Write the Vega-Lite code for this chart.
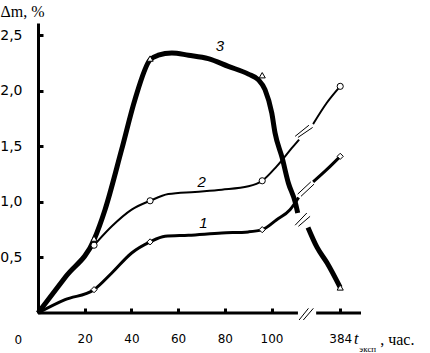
{
  "$schema": "https://vega.github.io/schema/vega-lite/v6.json",
  "width": 323,
  "height": 290,
  "autosize": "none",
  "padding": {"left": 38, "top": 23, "right": 69, "bottom": 40},
  "background": "white",
  "config": {"view": {"stroke": null}, "axis": {"grid": false}},
  "datasets": {
    "curves": [
      {"series": "1", "seg": "1a", "x": 0, "y": 0},
      {"series": "1", "seg": "1a", "x": 11.6, "y": 0.12},
      {"series": "1", "seg": "1a", "x": 24, "y": 0.21},
      {"series": "1", "seg": "1a", "x": 31.6, "y": 0.36},
      {"series": "1", "seg": "1a", "x": 40.1, "y": 0.54},
      {"series": "1", "seg": "1a", "x": 48, "y": 0.64},
      {"series": "1", "seg": "1a", "x": 54.4, "y": 0.69},
      {"series": "1", "seg": "1a", "x": 64.4, "y": 0.70},
      {"series": "1", "seg": "1a", "x": 78.7, "y": 0.72},
      {"series": "1", "seg": "1a", "x": 90.1, "y": 0.73},
      {"series": "1", "seg": "1a", "x": 96, "y": 0.75},
      {"series": "1", "seg": "1a", "x": 102.2, "y": 0.84},
      {"series": "1", "seg": "1a", "x": 107.9, "y": 0.93},
      {"series": "1", "seg": "1a", "x": 111.6, "y": 1.04},
      {"series": "1", "seg": "1b", "x": 117.8, "y": 1.18},
      {"series": "1", "seg": "1b", "x": 123.6, "y": 1.29},
      {"series": "1", "seg": "1b", "x": 129.4, "y": 1.41},
      {"series": "2", "seg": "2a", "x": 0, "y": 0},
      {"series": "2", "seg": "2a", "x": 12, "y": 0.32},
      {"series": "2", "seg": "2a", "x": 24, "y": 0.61},
      {"series": "2", "seg": "2a", "x": 31.6, "y": 0.78},
      {"series": "2", "seg": "2a", "x": 40.1, "y": 0.93},
      {"series": "2", "seg": "2a", "x": 48, "y": 1.01},
      {"series": "2", "seg": "2a", "x": 55.8, "y": 1.07},
      {"series": "2", "seg": "2a", "x": 67.2, "y": 1.09},
      {"series": "2", "seg": "2a", "x": 78.7, "y": 1.11},
      {"series": "2", "seg": "2a", "x": 90.1, "y": 1.14},
      {"series": "2", "seg": "2a", "x": 96, "y": 1.19},
      {"series": "2", "seg": "2a", "x": 102.2, "y": 1.32},
      {"series": "2", "seg": "2a", "x": 109.3, "y": 1.50},
      {"series": "2", "seg": "2a", "x": 111.8, "y": 1.56},
      {"series": "2", "seg": "2b", "x": 117.8, "y": 1.70},
      {"series": "2", "seg": "2b", "x": 123.6, "y": 1.89},
      {"series": "2", "seg": "2b", "x": 129.4, "y": 2.04},
      {"series": "3", "seg": "3a", "x": 0, "y": 0},
      {"series": "3", "seg": "3a", "x": 12, "y": 0.33},
      {"series": "3", "seg": "3a", "x": 24, "y": 0.66},
      {"series": "3", "seg": "3a", "x": 28.7, "y": 0.93},
      {"series": "3", "seg": "3a", "x": 35.8, "y": 1.47},
      {"series": "3", "seg": "3a", "x": 41.5, "y": 1.92},
      {"series": "3", "seg": "3a", "x": 48, "y": 2.28},
      {"series": "3", "seg": "3a", "x": 51.5, "y": 2.32},
      {"series": "3", "seg": "3a", "x": 57.3, "y": 2.34},
      {"series": "3", "seg": "3a", "x": 64.4, "y": 2.32},
      {"series": "3", "seg": "3a", "x": 72.9, "y": 2.29},
      {"series": "3", "seg": "3a", "x": 81.5, "y": 2.22},
      {"series": "3", "seg": "3a", "x": 90.1, "y": 2.15},
      {"series": "3", "seg": "3a", "x": 94.3, "y": 2.10},
      {"series": "3", "seg": "3a", "x": 97.2, "y": 2.01},
      {"series": "3", "seg": "3a", "x": 100.1, "y": 1.80},
      {"series": "3", "seg": "3a", "x": 101.5, "y": 1.62},
      {"series": "3", "seg": "3a", "x": 104.5, "y": 1.40},
      {"series": "3", "seg": "3a", "x": 107.2, "y": 1.17},
      {"series": "3", "seg": "3a", "x": 110.1, "y": 1.00},
      {"series": "3", "seg": "3a", "x": 111.2, "y": 0.90},
      {"series": "3", "seg": "3b", "x": 115.6, "y": 0.77},
      {"series": "3", "seg": "3b", "x": 119.5, "y": 0.59},
      {"series": "3", "seg": "3b", "x": 123.8, "y": 0.45},
      {"series": "3", "seg": "3b", "x": 129.4, "y": 0.23}
    ],
    "markers": [
      {"series": "1", "x": 24, "y": 0.21},
      {"series": "1", "x": 48, "y": 0.64},
      {"series": "1", "x": 96, "y": 0.75},
      {"series": "1", "x": 129.4, "y": 1.41},
      {"series": "2", "x": 24, "y": 0.61},
      {"series": "2", "x": 48, "y": 1.01},
      {"series": "2", "x": 96, "y": 1.19},
      {"series": "2", "x": 129.4, "y": 2.04},
      {"series": "3", "x": 24, "y": 0.67},
      {"series": "3", "x": 48, "y": 2.29},
      {"series": "3", "x": 96, "y": 2.14},
      {"series": "3", "x": 129.4, "y": 0.23}
    ],
    "breaks": [
      {"x": 111.8, "y": -0.063, "x2": 115.8, "y2": 0.042},
      {"x": 113.6, "y": -0.063, "x2": 117.9, "y2": 0.042},
      {"x": 110.1, "y": 0.79, "x2": 115.1, "y2": 0.90},
      {"x": 111.5, "y": 0.78, "x2": 116.5, "y2": 0.87},
      {"x": 111.2, "y": 1.07, "x2": 116.8, "y2": 1.18},
      {"x": 112.6, "y": 1.05, "x2": 118.2, "y2": 1.16},
      {"x": 110.1, "y": 1.59, "x2": 116.0, "y2": 1.69},
      {"x": 111.3, "y": 1.58, "x2": 117.6, "y2": 1.67}
    ],
    "axisline": [
      {"x": 0, "x2": 111.3, "y": 0},
      {"x": 119.1, "x2": 138.3, "y": 0}
    ],
    "curvelabels": [
      {"x": 70.8, "y": 0.81, "text": "1"},
      {"x": 70.1, "y": 1.18, "text": "2"},
      {"x": 77.9, "y": 2.40, "text": "3"}
    ]
  },
  "encoding": {
    "x": {
      "field": "x", "type": "quantitative",
      "scale": {"domain": [0, 138.3], "nice": false, "zero": false},
      "axis": {
        "title": null, "domain": false,
        "values": [20, 40, 60, 80, 100, 129.4],
        "labelExpr": "datum.value > 120 ? '384' : datum.label",
        "tickSize": -5, "tickWidth": 3, "tickColor": "black",
        "labelPadding": 25, "labelFont": "DejaVu Sans", "labelFontSize": 12,
        "labelColor": "black", "labelFlush": false, "labelOverlap": false
      }
    },
    "y": {
      "field": "y", "type": "quantitative",
      "scale": {"domain": [0, 2.61], "nice": false, "zero": false},
      "axis": {
        "title": "Δm, %", "titleAngle": 0, "titleAlign": "left", "titleBaseline": "alphabetic",
        "titleX": -38, "titleY": -7, "titleFont": "Liberation Serif", "titleFontSize": 16,
        "titleFontWeight": "normal", "titleColor": "black",
        "values": [0.5, 1, 1.5, 2, 2.5],
        "labelExpr": "replace(format(datum.value, '.1f'), '.', ',')",
        "domainWidth": 3, "domainColor": "black",
        "tickSize": -5, "tickWidth": 3, "tickColor": "black",
        "labelPadding": 21, "labelFont": "DejaVu Sans", "labelFontSize": 14, "labelColor": "black"
      }
    }
  },
  "layer": [
    {
      "data": {"name": "axisline"},
      "mark": {"type": "rule", "strokeWidth": 3, "color": "black"},
      "encoding": {"x2": {"field": "x2"}}
    },
    {
      "data": {"name": "curves"},
      "transform": [{"filter": "datum.series == '1'"}],
      "mark": {"type": "line", "strokeWidth": 3, "color": "black", "interpolate": "monotone"},
      "encoding": {"detail": {"field": "seg"}}
    },
    {
      "data": {"name": "curves"},
      "transform": [{"filter": "datum.series == '2'"}],
      "mark": {"type": "line", "strokeWidth": 2, "color": "black", "interpolate": "monotone"},
      "encoding": {"detail": {"field": "seg"}}
    },
    {
      "data": {"name": "curves"},
      "transform": [{"filter": "datum.series == '3'"}],
      "mark": {"type": "line", "strokeWidth": 5, "color": "black", "interpolate": "monotone"},
      "encoding": {"detail": {"field": "seg"}}
    },
    {
      "data": {"name": "breaks"},
      "mark": {"type": "rule", "strokeWidth": 1, "color": "black"},
      "encoding": {"x2": {"field": "x2"}, "y2": {"field": "y2"}}
    },
    {
      "data": {"name": "markers"},
      "mark": {"type": "point", "filled": true, "fill": "white", "stroke": "black", "strokeWidth": 1, "opacity": 1, "size": 38},
      "encoding": {
        "shape": {"field": "series", "type": "nominal", "scale": {"domain": ["1", "2", "3"], "range": ["diamond", "circle", "triangle-up"]}, "legend": null}
      }
    },
    {
      "data": {"name": "curvelabels"},
      "mark": {"type": "text", "font": "Liberation Sans", "fontStyle": "italic", "fontSize": 15, "color": "black", "align": "center", "baseline": "middle"},
      "encoding": {"text": {"field": "text"}}
    },
    {
      "data": {"values": [{"x": -8.4, "y": -0.243, "text": "0"}]},
      "mark": {"type": "text", "font": "DejaVu Sans", "fontSize": 12, "color": "black", "align": "center", "baseline": "middle"},
      "encoding": {"text": {"field": "text"}}
    },
    {
      "data": {"values": [{"x": 136.2, "y": -0.234, "text": "t"}]},
      "mark": {"type": "text", "font": "Liberation Serif", "fontStyle": "italic", "fontSize": 16, "color": "black", "align": "center", "baseline": "middle"},
      "encoding": {"text": {"field": "text"}}
    },
    {
      "data": {"values": [{"x": 141.2, "y": -0.32, "text": "эксп"}]},
      "mark": {"type": "text", "font": "Liberation Serif", "fontSize": 9, "color": "black", "align": "center", "baseline": "middle"},
      "encoding": {"text": {"field": "text"}}
    },
    {
      "data": {"values": [{"x": 146.5, "y": -0.243, "text": ", час."}]},
      "mark": {"type": "text", "font": "Liberation Serif", "fontSize": 16, "color": "black", "align": "left", "baseline": "middle"},
      "encoding": {"text": {"field": "text"}}
    }
  ]
}
